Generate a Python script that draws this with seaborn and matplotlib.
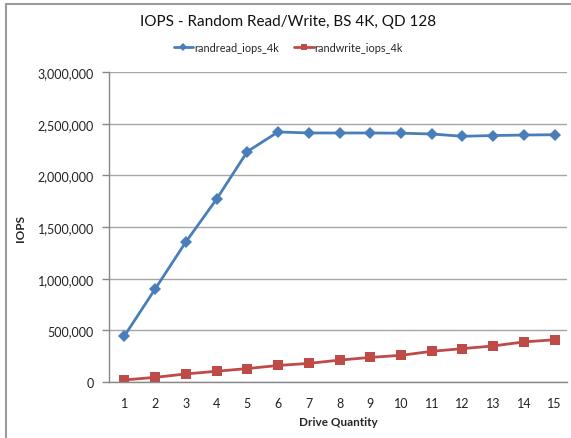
import matplotlib
matplotlib.use("Agg")
import matplotlib.pyplot as plt
import matplotlib.ticker as mticker
import seaborn as sns
import pandas as pd
from matplotlib.lines import Line2D

drives = list(range(1, 16))
randread_iops_4k = [445000, 900000, 1355000, 1770000, 2230000, 2420000, 2410000, 2410000,
                    2410000, 2408000, 2400000, 2378000, 2385000, 2390000, 2393000]
randwrite_iops_4k = [20000, 45000, 78000, 104000, 130000, 160000, 180000, 212000,
                     238000, 258000, 297000, 323000, 349000, 388000, 409000]
y_ticks = [0, 500000, 1000000, 1500000, 2000000, 2500000, 3000000]

sns.set_theme(style="white")
plt.rcParams['font.family'] = ['Lato', 'DejaVu Sans']

df = pd.DataFrame({
    "Drive Quantity": drives * 2,
    "IOPS": randread_iops_4k + randwrite_iops_4k,
    "series": ["randread_iops_4k"] * 15 + ["randwrite_iops_4k"] * 15,
})

blue = "#4a7ebb"
red = "#be4b48"

fig = plt.figure(figsize=(5.71, 4.39), dpi=100)
ax = fig.add_axes([109/571, 1-383/439, (567-109)/571, (383-73)/439])

sns.lineplot(data=df, x="Drive Quantity", y="IOPS", hue="series", style="series",
             markers={"randread_iops_4k": "D", "randwrite_iops_4k": "s"},
             dashes=False, palette={"randread_iops_4k": blue, "randwrite_iops_4k": red},
             markersize=6, linewidth=2, markeredgewidth=0, ax=ax, legend=False)
for ln in ax.lines:
    if ln.get_marker() == "s":
        ln.set_markersize(6.8)

ax.set_xlim(0.5, 15.4)
ax.set_ylim(0, 3000000)
ax.set_yticks(y_ticks)
ax.yaxis.set_major_formatter(mticker.FuncFormatter(lambda v, p: f"{int(v):,}"))
ax.set_xticks(drives)
ax.grid(axis="y", color="#a6a6a6", linewidth=1)
ax.set_axisbelow(True)
for s in ["top", "right"]:
    ax.spines[s].set_visible(False)
for s in ["left", "bottom"]:
    ax.spines[s].set_color("#888888")
    ax.spines[s].set_linewidth(1)
ax.tick_params(axis="y", length=5, width=1, color="#888888", labelsize=9, pad=6, colors="#222222", left=True)
ax.tick_params(axis="x", length=0, labelsize=9, pad=11, colors="#222222")
ax.set_xlabel("Drive Quantity", fontsize=8.5, fontweight="bold", labelpad=5)
ax.set_ylabel("IOPS", fontsize=8.5, fontweight="bold", labelpad=8)

fig.text(0.505, 1-22/439, "IOPS - Random Read/Write, BS 4K, QD 128", ha="center", va="center",
         fontsize=11, color="#111111")

handles = [Line2D([0], [0], color=blue, lw=2, marker="D", markersize=4.5, markeredgewidth=0),
           Line2D([0], [0], color=red, lw=2, marker="s", markersize=4.5, markeredgewidth=0)]
fig.legend(handles, ["randread_iops_4k", "randwrite_iops_4k"], loc="center",
           bbox_to_anchor=(0.505, 1-48/439), ncol=2, frameon=False, fontsize=7.8,
           handlelength=1.8, handletextpad=0.1, columnspacing=1.4)

# outer frame
fig.add_artist(Line2D([5.5/571, 5.5/571], [0, 1-4.5/439], transform=fig.transFigure, color="#9a9a9a", lw=1.5))
fig.add_artist(Line2D([5.5/571, 1], [1-4.5/439, 1-4.5/439], transform=fig.transFigure, color="#9a9a9a", lw=1.5))

fig.savefig("out.png", dpi=100)
